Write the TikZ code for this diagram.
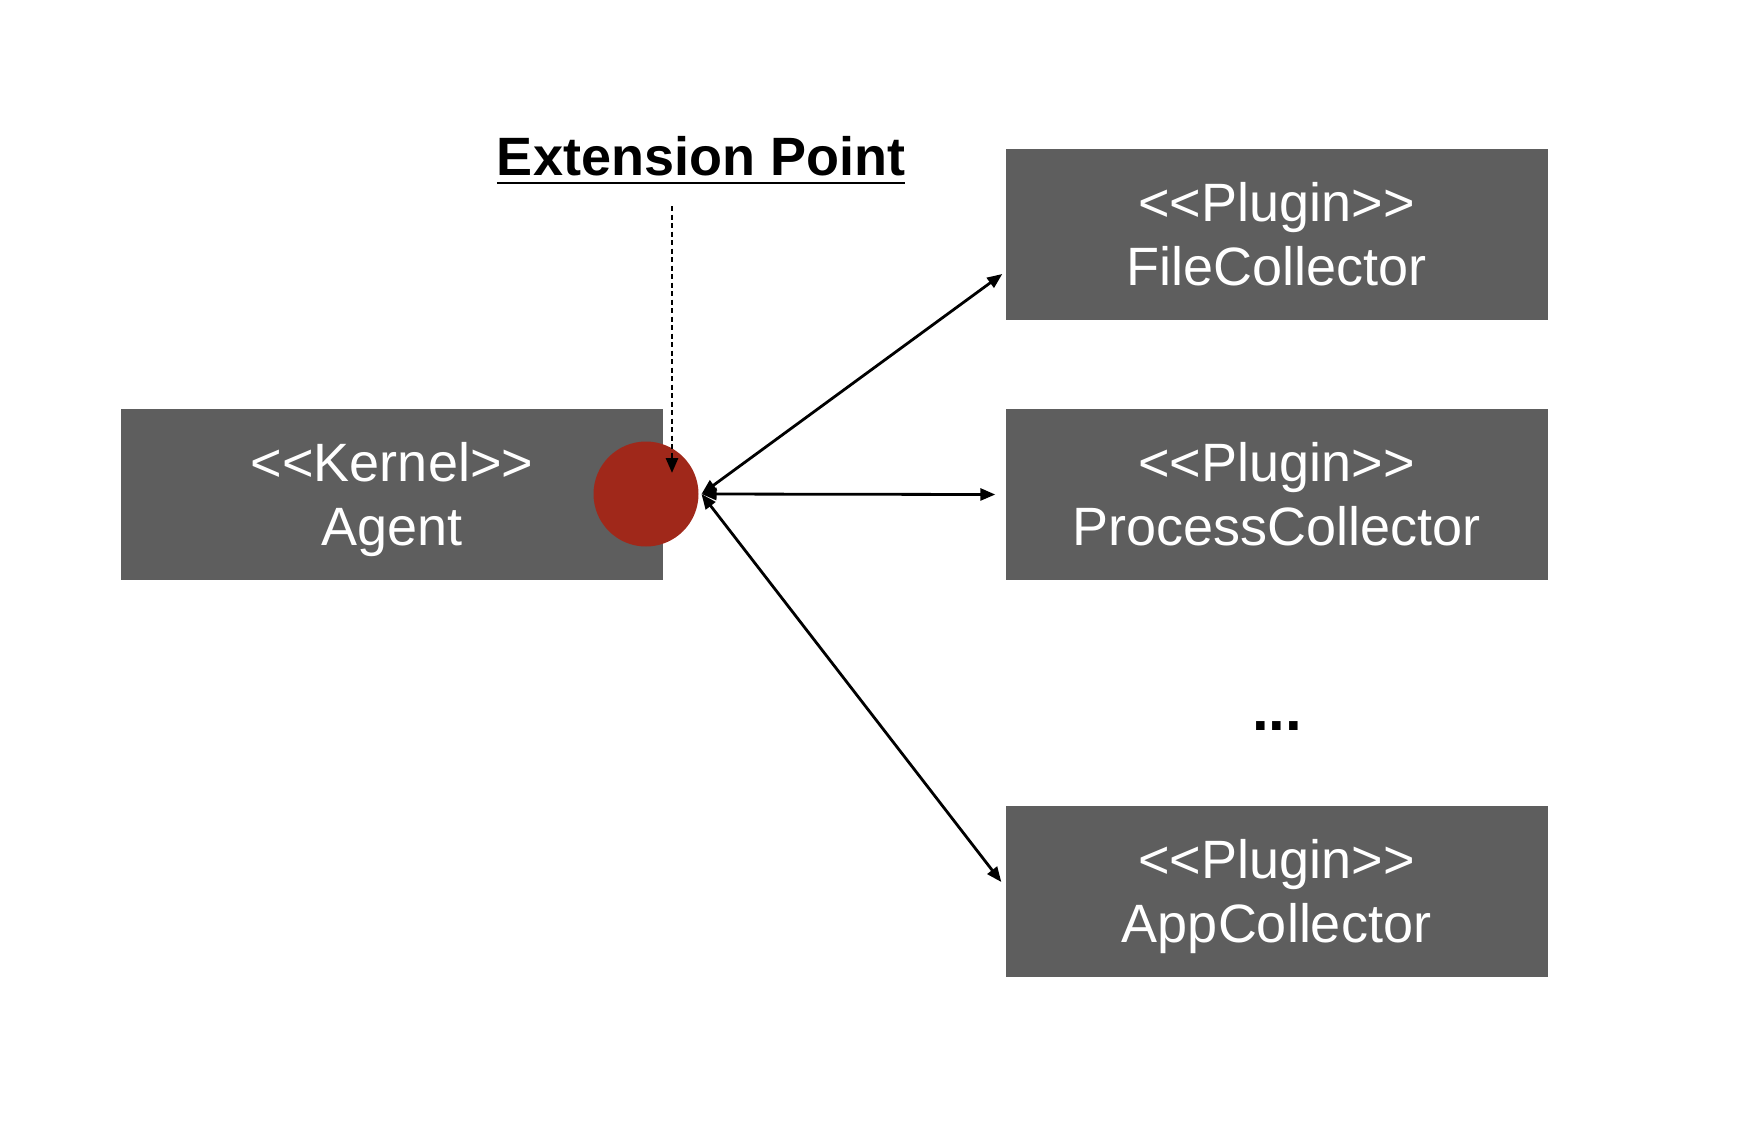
\documentclass[tikz,border=0pt]{standalone}
\usepackage{fontspec}
\setmainfont{Liberation Sans}[Ligatures=TeXOff]
\usetikzlibrary{arrows.meta}
\definecolor{boxgray}{HTML}{5E5E5E}
\definecolor{extred}{HTML}{A0281A}

\begin{document}
\begin{tikzpicture}[x=1pt, y=-1pt,
    box/.style={fill=boxgray, minimum width=542pt, minimum height=171pt, inner sep=0pt,
      text=white, align=center, text height=102pt, text depth=0pt,
      font=\fontsize{54}{64}\selectfont},
    link/.style={line width=2.8pt, {Triangle[length=15pt,width=12pt]}-{Triangle[length=15pt,width=12pt]}}]
    \useasboundingbox (0,0) rectangle (1762,1128);

    \node[box] (agent) at (392,494.5) {<<Kernel>>\\Agent};
    \node[box] (file) at (1276.5,234.5) {<<Plugin>>\\FileCollector};
    \node[box] (proc) at (1276.5,494.5) {<<Plugin>>\\ProcessCollector};
    \node[box] (app) at (1276.5,891.5) {<<Plugin>>\\AppCollector};
    \node[anchor=base, font=\bfseries\fontsize{60}{64}\selectfont] (more) at (1277,730) {...};

    \node[circle, fill=extred, minimum size=105pt, inner sep=0pt, outer sep=3pt] (ext) at (646,494) {};

    \node[anchor=base, inner sep=0pt, font=\bfseries\fontsize{54}{60}\selectfont] (extlabel) at (701,175) {Extension Point};
    \draw[line width=2.6pt] ([yshift=-8pt]extlabel.base west) -- ([yshift=-8pt]extlabel.base east);

    \coordinate (dtop) at (672,206);
    \coordinate (dtip) at (672,473);
    \draw[line width=2.8pt, dash pattern=on 5pt off 3.5pt, -{Triangle[length=15pt,width=12pt]}] (dtop) -- (dtip);

    \draw[link] (ext.east) -- ([xshift=-3pt,yshift=-39.5pt]file.west);
    \draw[link] (ext.east) -- ([xshift=-10pt]proc.west);
    \draw[link] (ext.east) -- ([xshift=-4pt,yshift=9.5pt]app.west);
\end{tikzpicture}
\end{document}
